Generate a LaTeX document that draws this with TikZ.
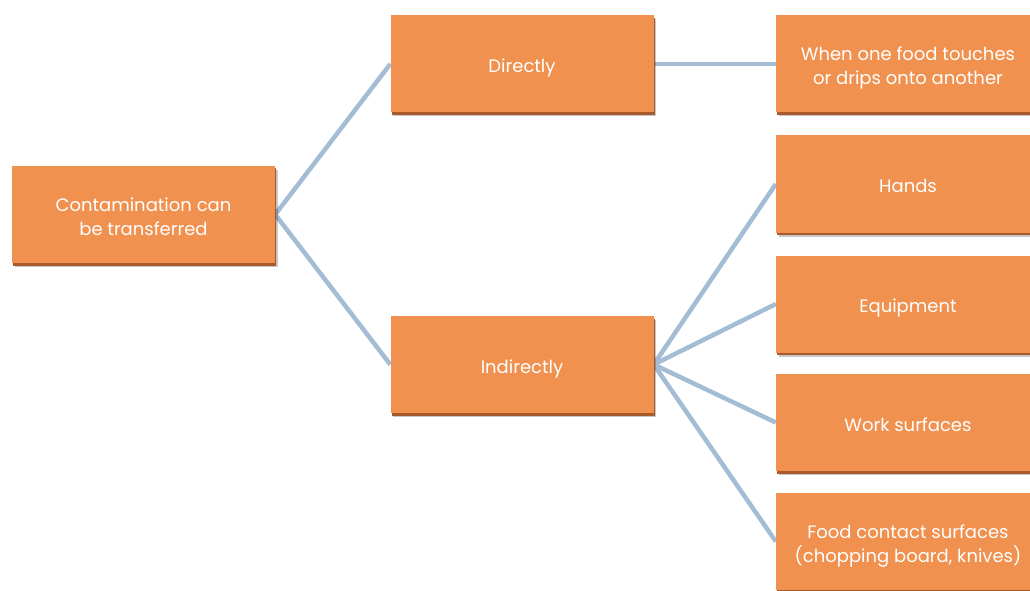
\documentclass[tikz,border=0pt]{standalone}
\usepackage{fontspec}
\setmainfont{Poppins}
\usetikzlibrary{shadows,backgrounds}
\newcommand{\boxtext}[1]{\raisebox{-8.5pt}[0pt][0pt]{\begin{tabular}{@{}c@{}}#1\end{tabular}}}
\begin{document}
\begin{tikzpicture}[x=1pt,y=1pt,
  box/.style={draw=none,fill=boxorange,minimum height=97pt,
    text=white,font=\fontsize{18}{24}\selectfont,inner sep=0pt,
    drop shadow={shadow xshift=2.5pt,shadow yshift=-4pt,fill=black,opacity=0.22},
    drop shadow={shadow xshift=1.2pt,shadow yshift=-2.5pt,fill=boxshade,opacity=1}},
  wbox/.style={box,minimum width=263pt},
  rbox/.style={box,minimum width=264pt},
  link/.style={draw=linkblue,line width=4.5pt}]
\definecolor{boxorange}{HTML}{F0914F}
\definecolor{boxshade}{HTML}{A85A2A}
\definecolor{linkblue}{HTML}{A4BCD4}
\useasboundingbox (0,0) rectangle (1030,590);
\clip (0,0) rectangle (1030,590);
% nodes (y = 590 - image y)
\node[wbox] (root) at (143.5,375.5) {\boxtext{Contamination can\\be transferred}};
\node[wbox] (dir) at (522,526) {\boxtext{Directly}};
\node[wbox] (ind) at (522,225.5) {\boxtext{Indirectly}};
\node[rbox] (r1) at (908,526) {\boxtext{When one food touches\\or drips onto another}};
\node[rbox] (r2) at (908,406) {\boxtext{Hands}};
\node[rbox] (r3) at (908,286) {\boxtext{Equipment}};
\node[rbox] (r4) at (908,167.5) {\boxtext{Work surfaces}};
\node[rbox] (r5) at (908,48.5) {\boxtext{Food contact surfaces\\(chopping board, knives)}};
\begin{scope}[on background layer]
\draw[link] (root.east) -- (dir.west);
\draw[link] (root.east) -- (ind.west);
\draw[link] (dir.east) -- (r1.west);
\foreach \t in {r2,r3,r4,r5} \draw[link] (ind.east) -- (\t.west);
\end{scope}
\end{tikzpicture}
\end{document}
